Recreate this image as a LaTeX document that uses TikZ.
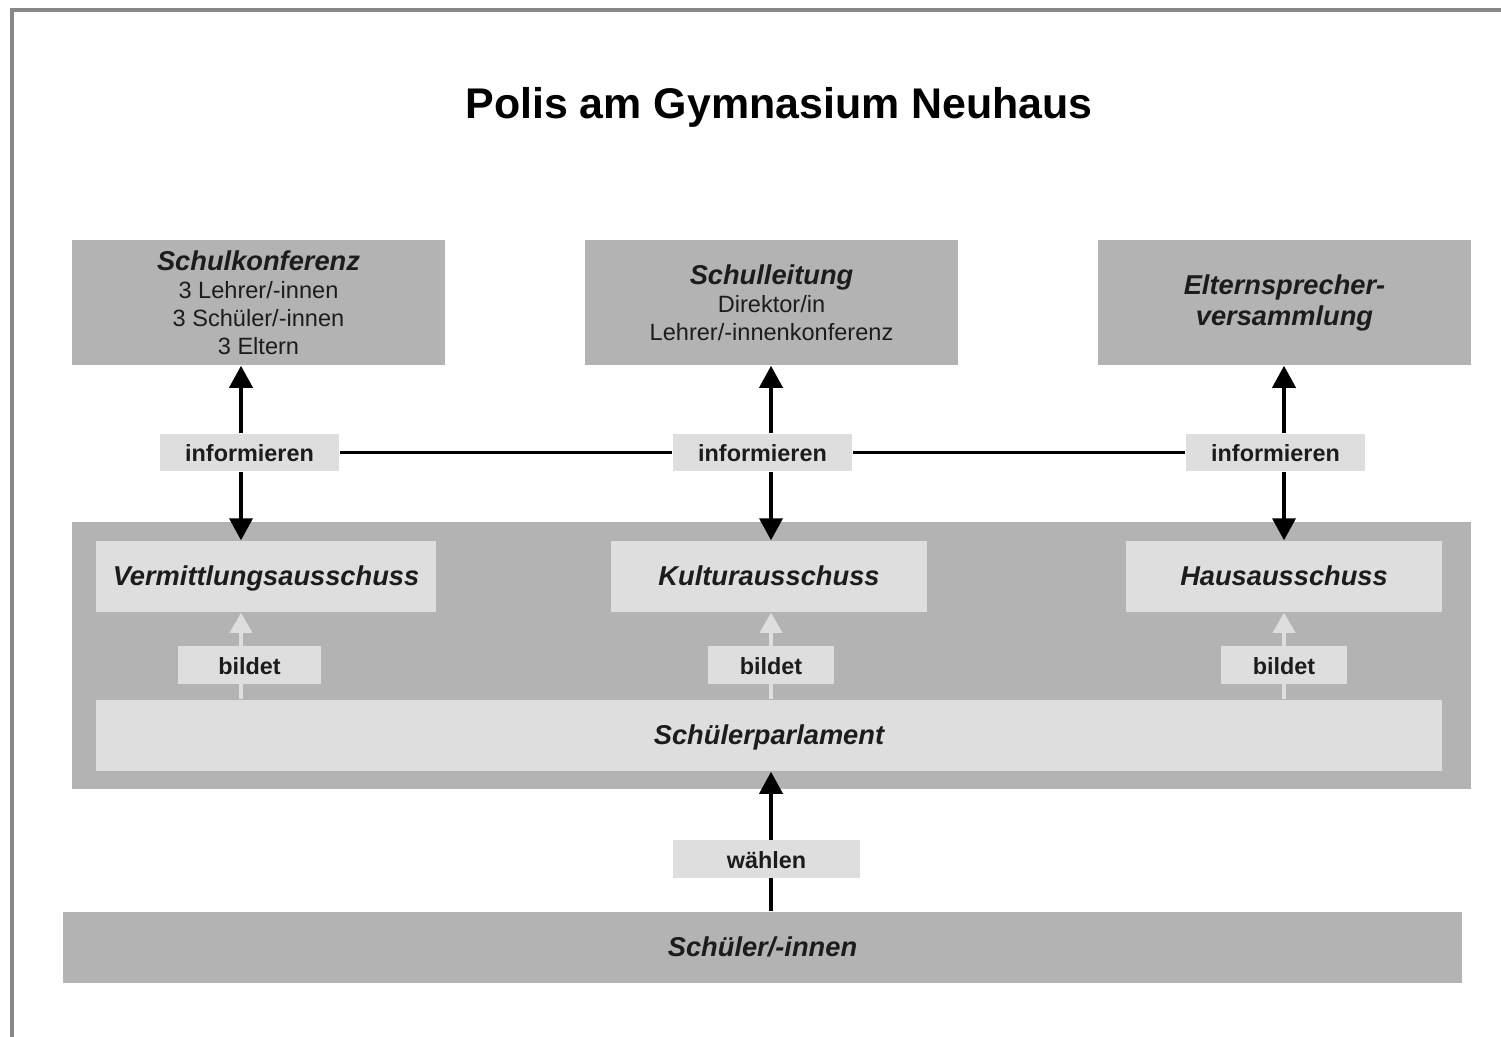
\documentclass[tikz,border=0pt]{standalone}
\usepackage{fontspec}
\setmainfont{Liberation Sans}
\usetikzlibrary{arrows.meta}
\definecolor{dgrey}{HTML}{B3B3B3}
\definecolor{lgrey}{HTML}{DEDEDE}
\definecolor{framegrey}{HTML}{888888}
\definecolor{txt}{HTML}{1C1C1C}
\begin{document}
\begin{tikzpicture}[x=0.01cm,y=-0.01cm,
  dbox/.style={fill=dgrey,draw=none,inner sep=0pt,align=center,text=txt},
  lbox/.style={fill=lgrey,draw=none,inner sep=0pt,align=center,text=txt},
  head/.style={font=\fontsize{7.75}{8.8}\selectfont\bfseries\itshape},
  oneline/.style={text height=0.73em,text depth=0.21em},
  small/.style={font=\fontsize{6.7}{8}\selectfont},
  lab/.style={lbox,oneline,font=\fontsize{6.65}{8}\selectfont\bfseries},
  arr/.style={line width=1.05pt,draw=black,-{Triangle[length=0.22cm,width=0.23cm]}},
  larr/.style={line width=1pt,draw=lgrey,-{Triangle[length=0.2cm,width=0.22cm,fill=lgrey]}},
  conn/.style={line width=1.05pt,draw=black}]
\useasboundingbox (0,0) rectangle (1501,1036);
\fill[white] (0,0) rectangle (1501,1036);
\draw[framegrey,line width=1.13pt] (12,1040) -- (12,10) -- (1505,10);

\node[font=\fontsize{12.2}{14}\selectfont\bfseries,text=black] (title) at (779,107) {Polis am Gymnasium Neuhaus};

% top boxes
\node[dbox,small,minimum width=3.73cm,minimum height=1.25cm] (sk) at (258.5,302.5)
  {{\fontsize{7.75}{8}\selectfont\bfseries\itshape Schulkonferenz}\\3 Lehrer/-innen\\3 Schüler/-innen\\3 Eltern};
\node[dbox,small,minimum width=3.73cm,minimum height=1.25cm] (sl) at (771.5,302.5)
  {{\fontsize{7.75}{8}\selectfont\bfseries\itshape Schulleitung}\\Direktor/in\\Lehrer/-innenkonferenz};
\node[dbox,head,minimum width=3.73cm,minimum height=1.25cm] (es) at (1284.5,302.5)
  {Elternsprecher-\\versammlung};

% panel
\node[dbox,minimum width=13.99cm,minimum height=2.67cm] (panel) at (771.5,655.5) {};
\node[lbox,head,oneline,minimum width=3.40cm,minimum height=0.71cm] (va) at (266,576.5) {Vermittlungsausschuss};
\node[lbox,head,oneline,minimum width=3.16cm,minimum height=0.71cm] (ka) at (769,576.5) {Kulturausschuss};
\node[lbox,head,oneline,minimum width=3.16cm,minimum height=0.71cm] (ha) at (1284,576.5) {Hausausschuss};
\node[lbox,head,oneline,minimum width=13.46cm,minimum height=0.71cm] (sp) at (769,735.5) {Schülerparlament};

% bottom
\node[dbox,head,oneline,minimum width=13.99cm,minimum height=0.71cm] (si) at (762.5,947.5) {Schüler/-innen};

% column coordinates
\coordinate (c1) at (241,0);
\coordinate (c2) at (771,0);
\coordinate (c3) at (1284,0);

% informieren labels
\node[lab,minimum width=1.79cm,minimum height=0.37cm] (inf1) at (249.5,452.5) {informieren};
\node[lab,minimum width=1.79cm,minimum height=0.37cm] (inf2) at (762.5,452.5) {informieren};
\node[lab,minimum width=1.79cm,minimum height=0.37cm] (inf3) at (1275.5,452.5) {informieren};

\draw[conn] (inf1.east) -- (inf2.west);
\draw[conn] (inf2.east) -- (inf3.west);

\draw[arr] (inf1.north -| c1) -- (sk.south -| c1);
\draw[arr] (inf1.south -| c1) -- (va.north -| c1);
\draw[arr] (inf2.north -| c2) -- (sl.south -| c2);
\draw[arr] (inf2.south -| c2) -- (ka.north -| c2);
\draw[arr] (inf3.north -| c3) -- (es.south -| c3);
\draw[arr] (inf3.south -| c3) -- (ha.north -| c3);

% bildet
\draw[larr] (sp.north -| c1) -- (va.south -| c1);
\draw[larr] (sp.north -| c2) -- (ka.south -| c2);
\draw[larr] (sp.north -| c3) -- (ha.south -| c3);
\node[lab,minimum width=1.43cm,minimum height=0.38cm] (bi1) at (249.5,665) {bildet};
\node[lab,minimum width=1.26cm,minimum height=0.38cm] (bi2) at (771,665) {bildet};
\node[lab,minimum width=1.26cm,minimum height=0.38cm] (bi3) at (1284,665) {bildet};

% waehlen
\draw[arr] (si.north -| c2) -- (sp.south -| c2);
\node[lab,minimum width=1.87cm,minimum height=0.38cm] (wa) at (766.5,859) {wählen};
\end{tikzpicture}
\end{document}
